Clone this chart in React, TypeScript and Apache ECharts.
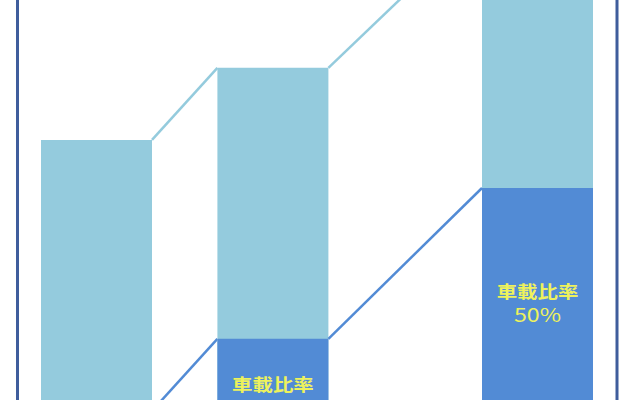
import React, { useEffect, useRef } from 'react';
import * as echarts from 'echarts';

// bar positions (years), totals and in-vehicle share
const years = [2015, 2017, 2020];
const totals = [59, 72.5, 100];
const ratios = [14, 30, 50];
const ratioTitle = '車載比率';

const LIGHT = '#94cbdd';
const DARK = '#528bd5';
const LABEL = '#eef25c';
const FRAME = '#3f5d9c';
const HALF_W = 55.5;

const App: React.FC = () => {
  const chartRef = useRef<HTMLDivElement>(null);

  useEffect(() => {
    if (!chartRef.current) return;
    const chart = echarts.init(chartRef.current, undefined, { renderer: 'svg' });

    const renderItem = (params: any, api: any) => {
      const i = params.dataIndex;
      const [cx, topY] = api.coord([years[i], totals[i]]);
      const baseY = api.coord([years[i], 0])[1];
      const darkY = api.coord([years[i], (totals[i] * ratios[i]) / 100])[1];
      const children: any[] = [
        {
          type: 'rect',
          shape: { x: cx - HALF_W, y: topY, width: HALF_W * 2, height: baseY - topY },
          style: { fill: LIGHT },
        },
        {
          type: 'rect',
          shape: { x: cx - HALF_W, y: darkY, width: HALF_W * 2, height: baseY - darkY },
          style: { fill: DARK },
        },
      ];

      if (i < years.length - 1) {
        const [nx, nTop] = api.coord([years[i + 1], totals[i + 1]]);
        const nDark = api.coord([years[i + 1], (totals[i + 1] * ratios[i + 1]) / 100])[1];
        children.push(
          {
            type: 'line',
            shape: { x1: cx + HALF_W, y1: topY, x2: nx - HALF_W, y2: nTop },
            style: { stroke: LIGHT, lineWidth: 2.5 },
          },
          {
            type: 'line',
            shape: { x1: cx + HALF_W, y1: darkY, x2: nx - HALF_W, y2: nDark },
            style: { stroke: DARK, lineWidth: 2.5 },
          }
        );
      }

      // label sits a bit above the middle of the dark part; skip lines that fall off the page
      const h = api.getHeight();
      const firstY = darkY + 0.385 * (baseY - darkY);
      if (firstY < h) {
        children.push({
          type: 'text',
          x: cx,
          y: firstY,
          scaleX: 1.2,
          style: {
            text: ratioTitle,
            fill: LABEL,
            font: 'bold 17px "Noto Sans CJK JP"',
            align: 'center',
            verticalAlign: 'middle',
          },
        });
      }
      if (firstY + 23 < h - 8) {
        children.push({
          type: 'text',
          x: cx,
          y: firstY + 23,
          scaleX: 1.22,
          style: {
            text: ratios[i] + '%',
            fill: LABEL,
            font: '19px "Noto Sans CJK JP"',
            align: 'center',
            verticalAlign: 'middle',
          },
        });
      }

      return { type: 'group', children };
    };

    chart.setOption({
      animation: false,
      grid: { left: 8.3, right: 14.3, top: 0, bottom: 0 },
      xAxis: { type: 'value', min: 2014, max: 2021, show: false },
      yAxis: { type: 'value', min: 10.3, max: 85.2, show: false },
      graphic: [
        {
          type: 'rect',
          shape: { x: 17.5, y: -10, width: 599.5, height: 420 },
          style: { fill: 'none', stroke: FRAME, lineWidth: 3 },
        },
      ],
      series: [
        {
          type: 'custom',
          renderItem,
          clip: false,
          data: years.map((y, i) => [y, totals[i]]),
          encode: { x: 0, y: 1 },
        },
      ],
    });

    return () => chart.dispose();
  }, []);

  return (
    <div
      ref={chartRef}
      style={{ position: 'absolute', left: 0, top: 0, width: 640, height: 400, background: '#fff' }}
    />
  );
};

export default App;
